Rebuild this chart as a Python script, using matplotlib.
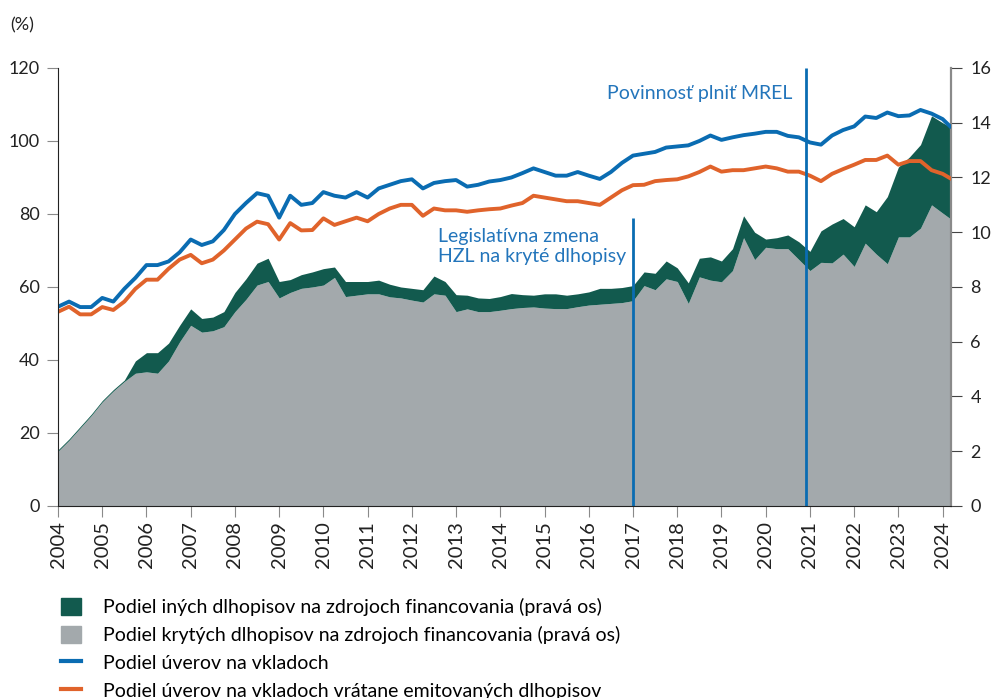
import numpy as np
import matplotlib
matplotlib.use('Agg')
import matplotlib.pyplot as plt
from matplotlib.patches import Patch
from matplotlib.lines import Line2D

plt.rcParams['font.family'] = ['Lato', 'DejaVu Sans']

# quarterly observations 2004Q1 .. 2024Q1, plus the last month
dates = np.append(2004 + np.arange(81) / 4, 2024.17)

# Podiel úverov na vkladoch (%), left axis
loans_dep = [54.6, 56.0, 54.5, 54.5, 57.0, 56.0, 59.5, 62.5,
             66.0, 66.0, 67.0, 69.5, 73.0, 71.5, 72.5, 75.6,
             80.0, 83.0, 85.7, 85.0, 79.0, 85.0, 82.5, 83.0,
             86.0, 85.0, 84.5, 86.0, 84.5, 87.0, 88.0, 89.0,
             89.5, 87.0, 88.5, 89.0, 89.3, 87.5, 88.0, 88.9,
             89.3, 90.0, 91.2, 92.5, 91.5, 90.5, 90.5, 91.5,
             90.5, 89.6, 91.5, 94.0, 96.0, 96.5, 97.0, 98.2,
             98.5, 98.8, 100.0, 101.5, 100.3, 101.0, 101.6, 102.0,
             102.5, 102.5, 101.4, 101.0, 99.6, 99.0, 101.5, 103.0,
             104.0, 106.7, 106.3, 107.8, 106.8, 107.0, 108.5, 107.5,
             106.0, 104.0]

# Podiel úverov na vkladoch vrátane emitovaných dlhopisov (%), left axis
loans_dep_bonds = [53.2, 54.6, 52.5, 52.5, 54.5, 53.7, 56.0, 59.5,
                   62.0, 62.0, 65.0, 67.5, 68.8, 66.5, 67.5, 70.0,
                   73.0, 76.0, 77.9, 77.2, 73.0, 77.5, 75.5, 75.6,
                   78.8, 77.0, 78.0, 79.0, 78.0, 80.0, 81.5, 82.5,
                   82.5, 79.5, 81.5, 81.0, 81.0, 80.6, 81.0, 81.3,
                   81.5, 82.3, 83.0, 85.0, 84.5, 84.0, 83.5, 83.5,
                   83.0, 82.5, 84.5, 86.5, 87.9, 88.0, 89.0, 89.3,
                   89.5, 90.3, 91.5, 93.0, 91.6, 92.0, 92.0, 92.5,
                   93.0, 92.5, 91.6, 91.6, 90.5, 89.0, 91.0, 92.3,
                   93.5, 94.8, 94.8, 96.0, 93.5, 94.5, 94.5, 92.0,
                   91.0, 89.8]

# Podiel krytých dlhopisov na zdrojoch financovania (%), right axis
covered = [2.0, 2.4, 2.85, 3.3, 3.8, 4.2, 4.55, 4.85,
           4.9, 4.85, 5.3, 6.0, 6.6, 6.35, 6.4, 6.55,
           7.1, 7.55, 8.07, 8.2, 7.6, 7.8, 7.95, 8.0,
           8.07, 8.35, 7.65, 7.7, 7.75, 7.75, 7.64, 7.6,
           7.52, 7.45, 7.75, 7.7, 7.1, 7.2, 7.1, 7.1,
           7.15, 7.21, 7.25, 7.27, 7.23, 7.21, 7.21, 7.28,
           7.34, 7.37, 7.4, 7.43, 7.5, 8.05, 7.9, 8.3,
           8.2, 7.4, 8.37, 8.25, 8.19, 8.6, 9.8, 9.0,
           9.45, 9.4, 9.4, 9.0, 8.6, 8.9, 8.88, 9.2,
           8.75, 9.6, 9.2, 8.85, 9.83, 9.83, 10.15, 11.0,
           10.7, 10.5]

# covered + other bonds (%), right axis
all_bonds = [2.05, 2.45, 2.9, 3.35, 3.85, 4.25, 4.6, 5.3,
             5.6, 5.6, 5.95, 6.6, 7.2, 6.85, 6.9, 7.1,
             7.8, 8.3, 8.87, 9.05, 8.2, 8.27, 8.45, 8.55,
             8.67, 8.73, 8.2, 8.2, 8.2, 8.25, 8.1, 8.0,
             7.95, 7.9, 8.4, 8.2, 7.72, 7.7, 7.6, 7.58,
             7.65, 7.76, 7.72, 7.7, 7.75, 7.75, 7.7, 7.75,
             7.82, 7.95, 7.95, 7.98, 8.05, 8.55, 8.5, 8.95,
             8.7, 8.15, 9.05, 9.1, 8.95, 9.4, 10.6, 10.0,
             9.75, 9.8, 9.9, 9.65, 9.3, 10.05, 10.3, 10.5,
             10.2, 11.0, 10.75, 11.3, 12.38, 12.75, 13.2, 14.25,
             14.0, 13.85]

years = list(range(2004, 2025))
labels = ['Podiel iných dlhopisov na zdrojoch financovania (pravá os)',
          'Podiel krytých dlhopisov na zdrojoch financovania (pravá os)',
          'Podiel úverov na vkladoch',
          'Podiel úverov na vkladoch vrátane emitovaných dlhopisov']

c_blue = '#0a6cb2'
c_orange = '#e0632b'
c_green = '#125a4e'
c_grey = '#a3a9ac'
c_text = '#2375bb'

fig = plt.figure(figsize=(9.95, 6.98), dpi=100)
ax = fig.add_axes([0.0583, 0.2751, 0.8975, 0.6275])
ax2 = ax.twinx()

ax2.fill_between(dates, 0, covered, color=c_grey, lw=0)
ax2.fill_between(dates, covered, all_bonds, color=c_green, lw=0)
ax2.set_ylim(0, 16)
ax2.set_yticks(range(0, 17, 2))

ax.set_zorder(ax2.get_zorder() + 1)
ax.patch.set_visible(False)

ax.plot(dates, loans_dep, color=c_blue, lw=2.8, solid_joinstyle='round')
ax.plot(dates, loans_dep_bonds, color=c_orange, lw=2.8, solid_joinstyle='round')

ax.vlines(2017.0, 0, 79, color=c_blue, lw=2)
ax.vlines(2020.92, 0, 120, color=c_blue, lw=2)
ax.text(2020.6, 113, 'Povinnosť plniť MREL', color=c_text, fontsize=14,
        ha='right', va='center')
ax.text(2016.85, 71, 'Legislatívna zmena\nHZL na kryté dlhopisy', color=c_text,
        fontsize=14, ha='right', va='center', multialignment='left',
        linespacing=1.2)

ax.set_xlim(2004, 2024.19)
ax.set_ylim(0, 120)
ax.set_yticks(range(0, 121, 20))
ax.set_xticks(years)
ax.set_xticklabels([str(y) for y in years], rotation=90, fontsize=14.5)

for a in (ax, ax2):
    a.spines['top'].set_visible(False)
ax.spines['right'].set_visible(False)
ax2.spines['left'].set_visible(False)
ax2.spines['bottom'].set_visible(False)
ax.spines['left'].set_color('#222222')
ax.spines['bottom'].set_color('#222222')
ax2.spines['right'].set_color('#8a8a8a')
ax2.spines['right'].set_linewidth(1.6)

ax.tick_params(axis='y', length=8, color='#8a8a8a', labelsize=13, pad=5,
               labelcolor='#222222')
ax.tick_params(axis='x', length=8, color='#8a8a8a', pad=3, labelcolor='#222222')
ax2.tick_params(axis='y', length=8, color='#444444', labelsize=13, pad=6,
                labelcolor='#222222')

fig.text(0.01, 0.964, '(%)', fontsize=13, va='center', color='#222222')

handles = [Patch(color=c_green), Patch(color=c_grey),
           Line2D([], [], color=c_blue, lw=3), Line2D([], [], color=c_orange, lw=3)]
fig.legend(handles, labels, loc='upper left', bbox_to_anchor=(0.061, 0.143),
           frameon=False, fontsize=14, handlelength=1.05, handleheight=0.95,
           handletextpad=1.15, labelspacing=0.5, borderaxespad=0, borderpad=0)

fig.savefig('out.png', dpi=100)
